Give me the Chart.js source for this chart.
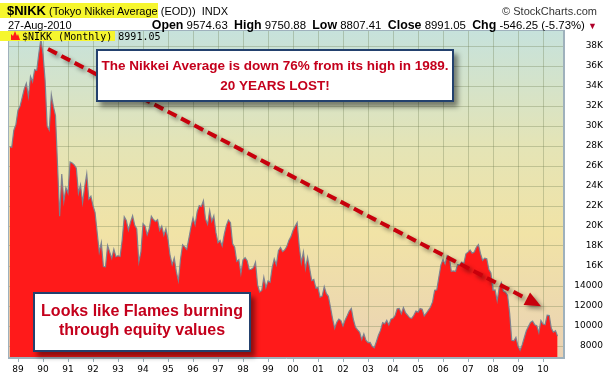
<!DOCTYPE html>
<html>
<head>
<meta charset="utf-8">
<script src="https://cdn.jsdelivr.net/npm/chart.js@4.4.1/dist/chart.umd.min.js"></script>
<style>
body{margin:0;background:#fff;}
#wrap{position:relative;width:603px;height:380px;overflow:hidden;font-family:"Liberation Sans",Arial,sans-serif;}
#c{position:absolute;left:0;top:0;}
.t{position:absolute;white-space:nowrap;color:#000;font-size:11px;line-height:15px;}
.t b.k{font-size:12.4px;}
.hl{position:absolute;background:#f6f62e;}
.box{position:absolute;box-sizing:border-box;background:#fff;border:2px solid #23416e;box-shadow:4px 5px 5px rgba(0,0,0,.45);
  color:#c4001c;font-weight:bold;text-align:center;font-family:"Liberation Sans",Arial,sans-serif;white-space:nowrap;}
</style>
</head>
<body>
<div id="wrap">
  <canvas id="c" width="603" height="380"></canvas>

  <div class="hl" style="left:0;top:3px;width:158px;height:15px"></div>
  <div class="t" style="left:7px;top:3px"><b style="font-size:13px">$NIKK</b> (Tokyo Nikkei Average (EOD))&nbsp; INDX</div>
  <div class="t" style="right:6px;top:4px;color:#333">© StockCharts.com</div>
  <div class="t" style="left:8px;top:18px">27-Aug-2010</div>
  <div class="t" style="right:6px;top:18px;font-size:11.4px"><b class="k">Open</b> 9574.63&nbsp; <b class="k">High</b> 9750.88&nbsp; <b class="k">Low</b> 8807.41&nbsp; <b class="k">Close</b> 8991.05&nbsp; <b class="k">Chg</b> -546.25 (-5.73%) <span style="color:#b0002a;font-size:9px">▼</span></div>

  <div class="hl" style="left:0;top:31px;width:115px;height:10px"></div>
  <svg style="position:absolute;left:11px;top:31px" width="9" height="9"><polygon points="0,9 0,3 2,5 4,0 6,5 7,3 9,9" fill="#ff1a1a"/></svg>
  <div class="t" style="left:22px;top:29px;font-family:'DejaVu Sans Mono',monospace;font-size:10px">$NIKK (Monthly) 8991.05</div>

  <div class="box" style="left:96px;top:49px;width:358px;height:53px;padding-top:5px;font-size:13.5px;line-height:19.5px">
    The Nikkei Average is down 76% from its high in 1989.<br>20 YEARS LOST!
  </div>
  <div class="box" style="left:33px;top:292px;width:218px;height:60px;padding-top:8px;font-size:16px;line-height:18.5px">
    Looks like Flames burning<br>through equity values
  </div>
</div>
<script>
// monthly closes, Sep 1988 .. Aug 2010
const y1988 = [27924, 27866, 29579, 30159];
const y1989 = [31581, 31986, 32839, 33713, 34267, 32949, 34954, 34431, 35637, 35549, 37269, 38700];
const y1990 = [37189, 34592, 29980, 29585, 33131, 31940, 31036, 25978, 20984, 25194, 22455, 23849];
const y1991 = [23293, 26409, 26292, 26111, 25790, 23291, 24121, 22336, 23916, 25222, 22687, 22984];
const y1992 = [22023, 21339, 19346, 17391, 18348, 15952, 15910, 18061, 17399, 16768, 17684, 16925];
const y1993 = [17024, 16953, 18591, 20919, 20552, 19590, 20380, 21027, 20106, 19703, 16408, 17417];
const y1994 = [20229, 19997, 19112, 19725, 20974, 20644, 20449, 20629, 19564, 19990, 19076, 19723];
const y1995 = [18650, 17053, 16140, 16807, 15437, 14517, 16678, 18117, 17913, 17655, 18744, 19868];
const y1996 = [20813, 20125, 21407, 22041, 21956, 22531, 20693, 20167, 21556, 20467, 21020, 19361];
const y1997 = [18330, 18557, 18003, 19151, 20069, 20605, 20331, 18229, 17888, 16459, 16636, 15258];
const y1998 = [16628, 16831, 16527, 15641, 15671, 15830, 16379, 14108, 13406, 13564, 14884, 13842];
const y1999 = [14499, 14368, 15837, 16702, 16112, 17530, 17862, 17437, 17605, 17942, 18558, 18934];
const y2000 = [19540, 19960, 20337, 17974, 16332, 17411, 15727, 16861, 15747, 14539, 14649, 13786];
const y2001 = [13844, 12884, 12999, 13934, 13262, 12969, 11861, 10713, 9775, 10367, 10697, 10543];
const y2002 = [9998, 10588, 11025, 11493, 11764, 10622, 9878, 9619, 9383, 8640, 9216, 8579];
const y2003 = [8340, 8363, 7973, 7831, 8425, 9083, 9563, 10344, 10219, 10560, 10101, 10677];
const y2004 = [10784, 11042, 11715, 11762, 11236, 11859, 11326, 11082, 10824, 10771, 11073, 11489];
const y2005 = [11388, 11741, 11669, 11009, 11277, 11584, 11900, 12414, 13574, 13607, 14872, 16111];
const y2006 = [16650, 16205, 17060, 16906, 15468, 15505, 15457, 16141, 16128, 16399, 16274, 17226];
const y2007 = [17383, 17604, 17288, 17400, 17876, 18138, 17249, 16569, 16786, 16737, 15681, 15308];
const y2008 = [13592, 13603, 12526, 13850, 14339, 13481, 13377, 13073, 11260, 8577, 8512, 8860];
const y2009 = [7994, 7568, 8110, 8828, 9523, 9958, 10357, 10493, 10133, 10035, 9345, 10546];
const y2010 = [10198, 10126, 11090, 11057, 9769, 9383, 9537, 8991];
const closes = [y1988, y1989, y1990, y1991, y1992, y1993, y1994, y1995, y1996, y1997, y1998, y1999,
                y2000, y2001, y2002, y2003, y2004, y2005, y2006, y2007, y2008, y2009, y2010];

const xYears = [1989,1990,1991,1992,1993,1994,1995,1996,1997,1998,1999,2000,2001,2002,2003,2004,2005,2006,2007,2008,2009,2010];
const yTicks = [8000,10000,12000,14000,16000,18000,20000,22000,24000,26000,28000,30000,32000,34000,36000,38000];

// dashed trend arrow, in data units [year, value]
const arrowFrom = [1990.2, 37700];
const arrowTo = [2009.92, 11980];

const points = [];
closes.forEach((arr, k) => {
  const yr = 1988 + k, first = k === 0 ? 12 - arr.length : 0;
  arr.forEach((v, m) => points.push({x: yr + (first + m) / 12, y: v}));
});

const bgPlugin = {
  id: 'bg',
  beforeDraw(chart){
    const {ctx, chartArea: a} = chart;
    const g = ctx.createLinearGradient(0, a.top, 0, a.bottom);
    g.addColorStop(0, '#c6e2dc');
    g.addColorStop(0.35, '#e4e4b6');
    g.addColorStop(0.62, '#f1e3a6');
    g.addColorStop(1, '#ead2b4');
    ctx.save(); ctx.fillStyle = g; ctx.fillRect(a.left, a.top, a.right - a.left, a.bottom - a.top); ctx.restore();
  },
  afterDraw(chart){
    const {ctx, chartArea: a} = chart;
    ctx.save(); ctx.strokeStyle = '#9fb1bc'; ctx.lineWidth = 1;
    ctx.strokeRect(a.left + .5, a.top + .5, a.right - a.left - 1, a.bottom - a.top - 1);
    ctx.restore();
  }
};

const arrowPlugin = {
  id: 'arrow',
  afterDatasetsDraw(chart){
    const {ctx, scales: {x, y}} = chart;
    const x0 = x.getPixelForValue(arrowFrom[0]), y0 = y.getPixelForValue(arrowFrom[1]);
    const x1 = x.getPixelForValue(arrowTo[0]), y1 = y.getPixelForValue(arrowTo[1]);
    const len = Math.hypot(x1 - x0, y1 - y0), ux = (x1 - x0) / len, uy = (y1 - y0) / len;
    const hl = 16, hw = 7;
    ctx.save();
    ctx.shadowColor = 'rgba(0,0,0,0.4)'; ctx.shadowBlur = 4; ctx.shadowOffsetX = 3; ctx.shadowOffsetY = 3;
    ctx.strokeStyle = '#c8000c'; ctx.fillStyle = '#c8000c'; ctx.lineWidth = 4;
    ctx.setLineDash([10, 5]);
    ctx.beginPath(); ctx.moveTo(x0, y0); ctx.lineTo(x1 - ux * (hl + 4), y1 - uy * (hl + 4)); ctx.stroke();
    ctx.setLineDash([]);
    const bx = x1 - ux * hl, by = y1 - uy * hl;
    ctx.beginPath();
    ctx.moveTo(x1, y1);
    ctx.lineTo(bx - uy * hw, by + ux * hw);
    ctx.lineTo(bx + uy * hw, by - ux * hw);
    ctx.closePath(); ctx.fill();
    ctx.restore();
  }
};

const gridCol = 'rgba(110,125,80,0.32)';
new Chart(document.getElementById('c'), {
  type: 'line',
  data: {datasets: [{
    data: points, fill: 'start', backgroundColor: '#ff1a1a',
    borderColor: 'rgba(120,130,145,0.95)', borderWidth: 1.2, pointRadius: 0, tension: 0
  }]},
  options: {
    responsive: false, animation: false, devicePixelRatio: 1,
    layout: {padding: {left: 8, top: 30, right: 0, bottom: 0}},
    plugins: {legend: {display: false}, tooltip: {enabled: false}},
    scales: {
      x: {
        type: 'linear', position: 'bottom', min: 1988.6, max: 2010.84,
        afterFit: s => { s.height = 22; },
        afterBuildTicks: s => { s.ticks = xYears.map(v => ({value: v})); },
        grid: {color: gridCol, tickColor: '#9fb1bc', tickLength: 4},
        border: {color: '#9fb1bc'},
        ticks: {autoSkip: false, maxRotation: 0, padding: 2, color: '#000',
          font: {family: 'DejaVu Sans', size: 9},
          callback: v => String(v % 100).padStart(2, '0')}
      },
      y: {
        position: 'right', min: 6800, max: 39600,
        afterFit: s => { s.width = 39; },
        afterBuildTicks: s => { s.ticks = yTicks.map(v => ({value: v})); },
        grid: {color: gridCol, tickColor: '#9fb1bc', tickLength: 0},
        border: {color: '#9fb1bc'},
        ticks: {crossAlign: 'far', padding: 0, color: '#000',
          font: {family: 'DejaVu Sans', size: 9},
          callback: v => v >= 16000 ? (v / 1000) + 'K' : String(v)}
      }
    }
  },
  plugins: [bgPlugin, arrowPlugin]
});
</script>
</body>
</html>
